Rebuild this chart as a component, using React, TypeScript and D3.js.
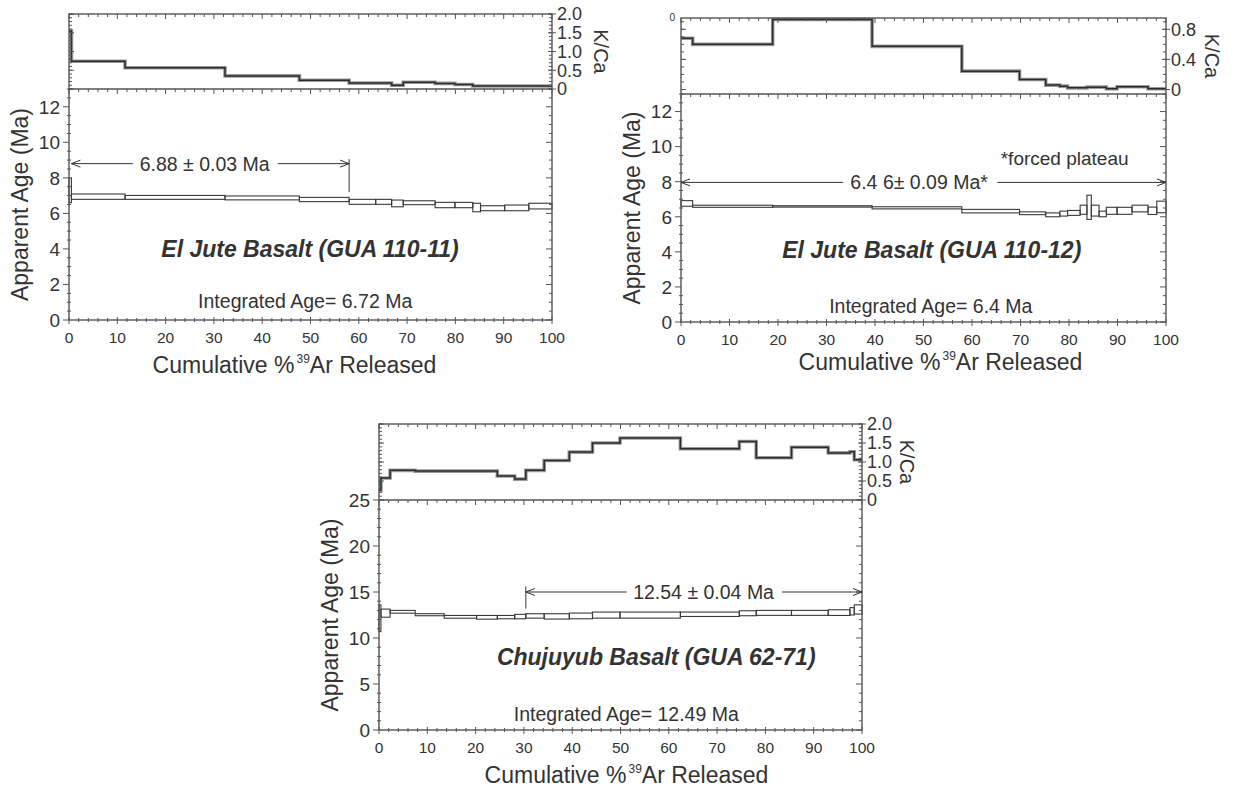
import React from "react";
import * as d3 from "d3";

// El Jute Basalt (GUA 110-11): step edges in cumulative % 39Ar, K/Ca, age and 1s error (Ma)
const steps110_11 = [0, 0.5, 11.6, 32.3, 47.7, 58, 63.5, 66.8, 69.2, 75.8, 79.9, 83.6, 85.2, 90.2, 95.2, 100];
const kca110_11 = [1.55, 0.74, 0.565, 0.35, 0.235, 0.157, 0.157, 0.1, 0.18, 0.15, 0.12, 0.08, 0.08, 0.08, 0.08];
const age110_11 = [7.3, 6.94, 6.9, 6.87, 6.78, 6.65, 6.65, 6.56, 6.6, 6.47, 6.47, 6.33, 6.29, 6.31, 6.41];
const err110_11 = [0.7, 0.15, 0.11, 0.11, 0.12, 0.14, 0.14, 0.19, 0.11, 0.15, 0.15, 0.24, 0.14, 0.16, 0.16];

// El Jute Basalt (GUA 110-12)
const steps110_12 = [0, 2.4, 18.9, 39.4, 57.9, 69.8, 75.2, 78.1, 79.7, 82.3, 83.7, 84.6, 86.2, 87.7, 89.9, 93.0, 96.3, 98.1, 100];
const kca110_12 = [0.68, 0.6, 0.93, 0.573, 0.244, 0.133, 0.058, 0.044, 0.022, 0.022, 0.031, 0.031, 0.031, 0.009, 0.036, 0.036, 0.009, 0.009];
const age110_12 = [6.76, 6.6, 6.59, 6.51, 6.32, 6.2, 6.11, 6.18, 6.22, 6.4, 6.54, 6.35, 6.16, 6.34, 6.34, 6.47, 6.34, 6.56];
const err110_12 = [0.16, 0.06, 0.04, 0.06, 0.1, 0.08, 0.11, 0.14, 0.14, 0.26, 0.69, 0.31, 0.16, 0.2, 0.2, 0.19, 0.21, 0.33];

// Chujuyub Basalt (GUA 62-71)
const steps62_71 = [0, 0.4, 2.3, 7.5, 13.5, 20.2, 24.5, 28.1, 30.4, 34.2, 39.4, 44.2, 49.9, 62.4, 74.6, 78.1, 85.4, 93.0, 97.5, 98.4, 100];
const kca62_71 = [0.26, 0.58, 0.78, 0.76, 0.76, 0.76, 0.63, 0.55, 0.78, 1.04, 1.26, 1.5, 1.63, 1.35, 1.54, 1.11, 1.39, 1.24, 1.27, 1.06];
const age62_71 = [12.15, 12.7, 12.85, 12.53, 12.3, 12.25, 12.27, 12.33, 12.4, 12.35, 12.4, 12.49, 12.49, 12.58, 12.69, 12.73, 12.73, 12.76, 12.9, 13.1];
const err62_71 = [1.45, 0.44, 0.15, 0.11, 0.15, 0.2, 0.18, 0.24, 0.24, 0.29, 0.31, 0.33, 0.33, 0.24, 0.27, 0.27, 0.27, 0.31, 0.4, 0.5];

const xMajorTicks = d3.range(0, 101, 10);
const xMinorTicks = d3.range(0, 101, 2);

const FONT = "'Liberation Sans', Arial, Helvetica, sans-serif";
const INK = "#333";
const AXIS = "#555";

type Plateau = {
  from: number;
  to: number;
  age: number;
  label: string;
  labelAt: number;
  drops: { at: number; top: number; bottom: number }[];
};

type PanelProps = {
  edges: number[];
  kca: number[];
  ages: number[];
  errs: number[];
  left: number;
  right: number;
  kTop: number;
  kBottom: number;
  ageBottom: number;
  ageMax: number;
  ageMajor: number;
  ageMinor: number;
  kDomain: [number, number];
  kMajor: number[];
  kMinor: number[];
  kFmt: (v: number) => string;
  kTitleShift: number;
  plateau: Plateau;
  title: string;
  titleAt: [number, number];
  integrated: string;
  integratedAt: [number, number];
  xTitleShift: number;
  xTitleDrop: number;
  note?: { text: string; at: [number, number] };
  topZero?: boolean;
};

function Panel(p: PanelProps) {
  const x = d3.scaleLinear().domain([0, 100]).range([p.left, p.right]);
  const yk = d3.scaleLinear().domain(p.kDomain).range([p.kBottom, p.kTop]);
  const ya = d3.scaleLinear().domain([0, p.ageMax]).range([p.ageBottom, p.kBottom]);

  const kPts: [number, number][] = p.kca.map((v, i) => [p.edges[i], v]);
  kPts.push([100, p.kca[p.kca.length - 1]]);
  const kLine = d3
    .line<[number, number]>()
    .x((d) => x(d[0]))
    .y((d) => yk(Math.min(d[1], p.kDomain[1])))
    .curve(d3.curveStepAfter);
  const kPath = kLine(kPts) || "";

  const ageMajor = d3.range(0, p.ageMax + 0.001, p.ageMajor);
  const ageMinor = d3.range(0, p.ageMax + 0.001, p.ageMinor);

  const pl = p.plateau;
  const py = ya(pl.age);
  const x0 = x(pl.from);
  const x1 = x(pl.to);

  return (
    <g fontFamily={FONT} fill={INK}>
      {/* K/Ca step line */}
      <path d={kPath} fill="none" stroke="#9a9a9a" strokeWidth={3.6} />
      <path d={kPath} fill="none" stroke="#2b2b2b" strokeWidth={1.5} />

      {/* age spectrum boxes */}
      {p.ages.map((a, i) => (
        <rect
          key={i}
          x={x(p.edges[i])}
          width={x(p.edges[i + 1]) - x(p.edges[i])}
          y={ya(a + p.errs[i])}
          height={ya(a - p.errs[i]) - ya(a + p.errs[i])}
          fill="none"
          stroke="#3a3a3a"
          strokeWidth={1.1}
        />
      ))}

      {/* frames */}
      <rect x={p.left} y={p.kTop} width={p.right - p.left} height={p.ageBottom - p.kTop} fill="none" stroke={AXIS} strokeWidth={1.4} />
      <line x1={p.left} x2={p.right} y1={p.kBottom} y2={p.kBottom} stroke={AXIS} strokeWidth={1.4} />

      {/* x ticks: top, middle, bottom */}
      {xMinorTicks.map((t) => {
        const major = t % 10 === 0;
        const len = major ? 5 : 3;
        return (
          <g key={t} stroke={AXIS} strokeWidth={1}>
            <line x1={x(t)} x2={x(t)} y1={p.kTop} y2={p.kTop + len} />
            <line x1={x(t)} x2={x(t)} y1={p.kBottom} y2={p.kBottom + len} />
            <line x1={x(t)} x2={x(t)} y1={p.ageBottom - (major ? 3 : 2)} y2={p.ageBottom + (major ? 4 : 2)} />
          </g>
        );
      })}
      {xMajorTicks.map((t) => (
        <text key={t} x={x(t)} y={p.ageBottom + 23} fontSize={15.5} textAnchor="middle">
          {t}
        </text>
      ))}

      {/* age axis ticks */}
      {ageMinor.map((t) => {
        const major = ageMajor.some((m) => Math.abs(m - t) < 1e-6);
        return (
          <g key={t} stroke={AXIS} strokeWidth={1}>
            <line x1={p.left - (major ? 6 : 2)} x2={p.left + (major ? 0 : 2)} y1={ya(t)} y2={ya(t)} />
            <line x1={p.right} x2={p.right - (major ? 6 : 3)} y1={ya(t)} y2={ya(t)} />
          </g>
        );
      })}
      {ageMajor.map((t) => (
        <text key={t} x={p.left - 9} y={ya(t)} dy="0.36em" fontSize={19} textAnchor="end">
          {t}
        </text>
      ))}

      {/* K/Ca axis ticks */}
      {p.kMinor.map((t) => (
        <g key={t} stroke={AXIS} strokeWidth={1}>
          <line x1={p.left} x2={p.left + 3} y1={yk(t)} y2={yk(t)} />
          <line x1={p.right} x2={p.right - 3} y1={yk(t)} y2={yk(t)} />
        </g>
      ))}
      {p.kMajor.map((t) => (
        <g key={t}>
          <line x1={p.left} x2={p.left + 5} y1={yk(t)} y2={yk(t)} stroke={AXIS} />
          <line x1={p.right - 4} x2={p.right + 4} y1={yk(t)} y2={yk(t)} stroke={AXIS} />
          <text x={p.right + 5} y={yk(t)} dy="0.36em" fontSize={18}>
            {p.kFmt(t)}
          </text>
        </g>
      ))}
      {p.topZero && (
        <text x={p.left - 6} y={p.kTop} dy="0.3em" fontSize={10} textAnchor="end">
          0
        </text>
      )}
      <text
        transform={`translate(${p.right + p.kTitleShift},${(p.kTop + p.kBottom) / 2}) rotate(90)`}
        fontSize={20}
        textAnchor="middle"
        dy="0.36em"
      >
        K/Ca
      </text>

      {/* axis titles */}
      <text
        transform={`translate(${p.left - 41},${(p.kBottom + p.ageBottom) / 2}) rotate(-90)`}
        fontSize={23}
        textAnchor="middle"
      >
        Apparent Age (Ma)
      </text>
      <text x={(p.left + p.right) / 2 + p.xTitleShift} y={p.ageBottom + p.xTitleDrop} fontSize={23} textAnchor="middle">
        Cumulative %
        <tspan fontSize={12} dy={-10} dx={2}>
          39
        </tspan>
        <tspan dy={10}>Ar Released</tspan>
      </text>

      {/* plateau */}
      <g stroke="#333" strokeWidth={1} fill="none">
        <line x1={x0} x2={x1} y1={py} y2={py} />
        <path d={`M${x0 + 9},${py - 3.5}L${x0},${py}L${x0 + 9},${py + 3.5}`} />
        <path d={`M${x1 - 9},${py - 3.5}L${x1},${py}L${x1 - 9},${py + 3.5}`} />
        {pl.drops.map((d, i) => (
          <line key={i} x1={x(d.at)} x2={x(d.at)} y1={ya(d.top)} y2={ya(d.bottom)} />
        ))}
      </g>
      <text
        x={x(pl.labelAt)}
        y={py}
        dy="0.36em"
        fontSize={19.5}
        textAnchor="middle"
        stroke="#fff"
        strokeWidth={16}
        paintOrder="stroke"
      >
        {pl.label}
      </text>

      {p.note && (
        <text x={x(p.note.at[0])} y={ya(p.note.at[1])} fontSize={19} textAnchor="middle">
          {p.note.text}
        </text>
      )}

      <text
        x={x(p.titleAt[0])}
        y={ya(p.titleAt[1])}
        fontSize={23}
        fontWeight="bold"
        fontStyle="italic"
        textAnchor="middle"
      >
        {p.title}
      </text>
      <text x={x(p.integratedAt[0])} y={ya(p.integratedAt[1])} fontSize={19.5} textAnchor="middle">
        {p.integrated}
      </text>
    </g>
  );
}

export default function App() {
  const fmt1 = (v: number) => (v === 0 ? "0" : v.toFixed(1));
  return (
    <svg
      width={1233}
      height={794}
      style={{ position: "absolute", left: 0, top: 0, background: "#fff" }}
    >
      <Panel
        edges={steps110_11}
        kca={kca110_11}
        ages={age110_11}
        errs={err110_11}
        left={69}
        right={552}
        kTop={14}
        kBottom={89}
        ageBottom={320}
        ageMax={13}
        ageMajor={2}
        ageMinor={0.5}
        kDomain={[0, 2]}
        kMajor={[0, 0.5, 1, 1.5, 2]}
        kMinor={d3.range(0, 2.01, 0.1)}
        kFmt={fmt1}
        kTitleShift={49}
        plateau={{
          from: 0.5,
          to: 58,
          age: 8.8,
          label: "6.88 ± 0.03 Ma",
          labelAt: 28.1,
          drops: [{ at: 58, top: 9.05, bottom: 7.2 }],
        }}
        title="El Jute Basalt (GUA 110-11)"
        titleAt={[49.9, 3.55]}
        integrated="Integrated Age= 6.72 Ma"
        integratedAt={[48.9, 0.7]}
        xTitleShift={-16}
        xTitleDrop={53}
      />
      <Panel
        edges={steps110_12}
        kca={kca110_12}
        ages={age110_12}
        errs={err110_12}
        left={681}
        right={1166}
        kTop={18}
        kBottom={94}
        ageBottom={322}
        ageMax={13}
        ageMajor={2}
        ageMinor={0.5}
        kDomain={[-0.06, 0.95]}
        kMajor={[0, 0.4, 0.8]}
        kMinor={d3.range(0, 0.95, 0.1)}
        kFmt={(v) => (v === 0 ? "0" : v.toFixed(1))}
        kTitleShift={46}
        plateau={{
          from: 0,
          to: 100,
          age: 7.96,
          label: "6.4 6± 0.09 Ma*",
          labelAt: 49.1,
          drops: [],
        }}
        title="El Jute Basalt (GUA 110-12)"
        titleAt={[51.7, 3.64]}
        integrated="Integrated Age= 6.4 Ma"
        integratedAt={[51.5, 0.54]}
        xTitleShift={17}
        xTitleDrop={48}
        note={{ text: "*forced plateau", at: [79.1, 8.95] }}
        topZero
      />
      <Panel
        edges={steps62_71}
        kca={kca62_71}
        ages={age62_71}
        errs={err62_71}
        left={379}
        right={862}
        kTop={424}
        kBottom={500}
        ageBottom={730}
        ageMax={25}
        ageMajor={5}
        ageMinor={1}
        kDomain={[0, 2]}
        kMajor={[0, 0.5, 1, 1.5, 2]}
        kMinor={d3.range(0, 2.01, 0.1)}
        kFmt={fmt1}
        kTitleShift={45}
        plateau={{
          from: 30.4,
          to: 100,
          age: 15.0,
          label: "12.54 ± 0.04 Ma",
          labelAt: 67.2,
          drops: [{ at: 30.4, top: 15.6, bottom: 13.2 }],
        }}
        title="Chujuyub Basalt (GUA 62-71)"
        titleAt={[57.4, 7.07]}
        integrated="Integrated Age= 12.49 Ma"
        integratedAt={[51.2, 1.0]}
        xTitleShift={6}
        xTitleDrop={53}
      />
    </svg>
  );
}
